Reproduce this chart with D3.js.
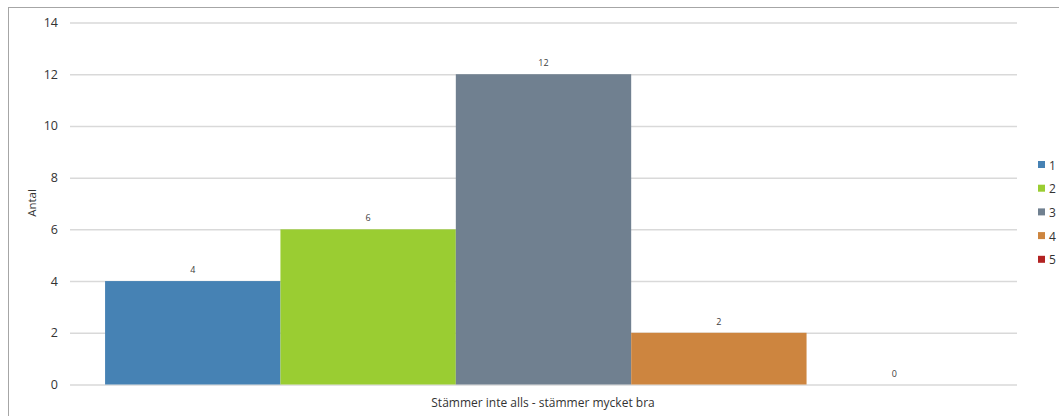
<!DOCTYPE html>
<html><head><meta charset="utf-8">
<script src="https://cdn.jsdelivr.net/npm/d3@7"></script>
<style>body{margin:0;background:#fff}svg{display:block;font-family:"Open Sans","Liberation Sans",sans-serif}</style>
</head><body><svg id="c" width="1059" height="416"></svg>
<script>
const series = ["1","2","3","4","5"];
const values = [4, 6, 12, 2, 0];
const colors = ["#4682B4","#9ACD32","#708090","#CD853F","#B22222"];
const yTicks = [0,2,4,6,8,10,12,14];
const category = "Stämmer inte alls - stämmer mycket bra";
const yTitle = "Antal";

const svg = d3.select("#c");
svg.append("rect").attr("x",8.5).attr("y",7.5).attr("width",1060).attr("height",420)
  .attr("fill","none").attr("stroke","#a6a6a6").attr("stroke-width",1);

const y = d3.scaleLinear().domain([0,14]).range([384.5,22.5]);
const x0 = d3.scaleBand().domain([category]).range([70,1017]).paddingInner(0).paddingOuter(0.04);
const x1 = d3.scaleBand().domain(series).range([0,x0.bandwidth()]);

const gy = svg.append("g").attr("transform","translate(70,0)")
  .call(d3.axisLeft(y).tickValues(yTicks).tickSize(-947).tickPadding(12));
gy.select(".domain").remove();
gy.selectAll(".tick line").attr("stroke","#d9d9d9").attr("stroke-width",1.5);
gy.selectAll(".tick text").attr("fill","#333").attr("font-size",12.5).attr("font-family","'Open Sans',sans-serif");

const g = svg.append("g").attr("transform",`translate(${x0(category)},0)`);
g.selectAll("rect").data(values).join("rect")
  .attr("x",(d,i)=>x1(series[i])).attr("width",x1.bandwidth())
  .attr("y",d=>y(d)).attr("height",d=>y(0)-y(d)).attr("fill",(d,i)=>colors[i]);
g.selectAll("text").data(values).join("text")
  .attr("x",(d,i)=>x1(series[i])+x1.bandwidth()/2).attr("y",d=>y(d)-8)
  .attr("text-anchor","middle").attr("font-size",9).attr("fill","#404040").text(d=>d);

svg.append("text").attr("x",543).attr("y",407).attr("text-anchor","middle")
  .attr("font-size",12).attr("fill","#333").text(category);
svg.append("text").attr("transform","translate(36,203) rotate(-90)").attr("text-anchor","middle")
  .attr("font-size",11.5).attr("fill","#333").text(yTitle);

const lg = svg.append("g");
series.forEach((s,i)=>{
  const yy = 165 + i*23.7;
  lg.append("rect").attr("x",1038).attr("y",yy-4).attr("width",7).attr("height",7).attr("fill",colors[i]);
  lg.append("text").attr("x",1049).attr("y",yy+4.5).attr("font-size",12).attr("fill","#333").text(s);
});
</script></body></html>
